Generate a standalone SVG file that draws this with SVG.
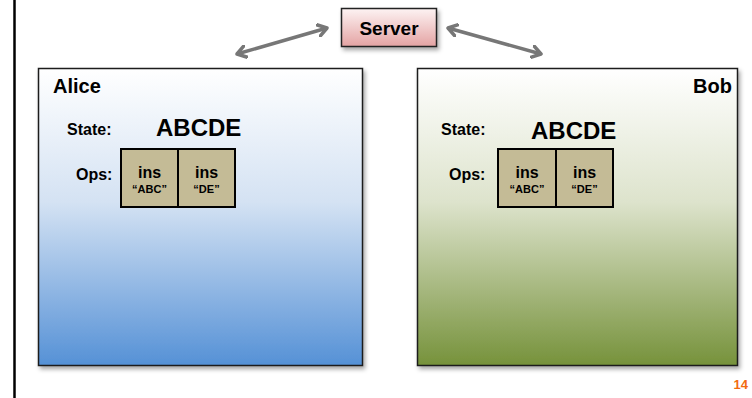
<svg xmlns="http://www.w3.org/2000/svg" width="752" height="398" viewBox="0 0 752 398">
  <style>
    text { font-family: "Liberation Sans", Arial, sans-serif; font-weight: bold; fill: #000; }
    .title { font-size: 20px; }
    .label { font-size: 16px; }
    .state { font-size: 24px; }
    .op { fill: #c4bb96; stroke: #000; stroke-width: 2; }
    .opname { font-size: 16px; text-anchor: middle; }
    .oparg { font-size: 11px; text-anchor: middle; }
    .client { stroke: #1a1a1a; stroke-width: 1.5; }
    .link { fill: none; stroke: #777; stroke-width: 3.5; }
  </style>
  <defs>
    <linearGradient id="gradAlice" x1="0" y1="0" x2="0" y2="1">
      <stop offset="0" stop-color="#ffffff"/>
      <stop offset="0.45" stop-color="#d4e2f3"/>
      <stop offset="1" stop-color="#5591d6"/>
    </linearGradient>
    <linearGradient id="gradBob" x1="0" y1="0" x2="0" y2="1">
      <stop offset="0" stop-color="#ffffff"/>
      <stop offset="0.45" stop-color="#dde3cc"/>
      <stop offset="1" stop-color="#76923b"/>
    </linearGradient>
    <linearGradient id="gradServer" x1="0" y1="0" x2="0" y2="1">
      <stop offset="0" stop-color="#fdf3f3"/>
      <stop offset="1" stop-color="#e4a3a3"/>
    </linearGradient>
    <filter id="shadow" x="-10%" y="-10%" width="125%" height="130%">
      <feDropShadow dx="2" dy="3" stdDeviation="2" flood-color="#000" flood-opacity="0.35"/>
    </filter>
    <marker id="chevron" viewBox="0 0 12 14" refX="10" refY="7" markerWidth="12" markerHeight="14" markerUnits="userSpaceOnUse" orient="auto-start-reverse">
      <path d="M1,1 L10,7 L1,13" fill="none" stroke="#777" stroke-width="3.5" stroke-linecap="round" stroke-linejoin="round"/>
    </marker>
  </defs>

  <!-- page margin rule -->
  <line x1="14.5" y1="0" x2="14.5" y2="398" stroke="#000" stroke-width="2.5"/>

  <!-- connectors -->
  <g id="connectors">
    <line class="link" x1="237" y1="54" x2="327" y2="28" marker-start="url(#chevron)" marker-end="url(#chevron)"/>
    <line class="link" x1="448" y1="28" x2="541" y2="54" marker-start="url(#chevron)" marker-end="url(#chevron)"/>
  </g>

  <!-- server -->
  <g id="server">
    <rect x="341.5" y="8.5" width="95" height="38" fill="url(#gradServer)" stroke="#222" stroke-width="1.5" filter="url(#shadow)"/>
    <text x="389" y="35" font-size="19" text-anchor="middle">Server</text>
  </g>

  <!-- client Alice -->
  <g id="alice">
    <rect class="client" x="38.5" y="68.5" width="324" height="297" fill="url(#gradAlice)" filter="url(#shadow)"/>
    <text class="title" x="53" y="93">Alice</text>
    <text class="label" x="67" y="135">State:</text>
    <text class="state" x="156" y="136">ABCDE</text>
    <text class="label" x="76" y="180">Ops:</text>
    <g id="alice-ops">
      <rect class="op" x="121" y="149" width="57" height="58"/>
      <rect class="op" x="178" y="149" width="57" height="58"/>
      <text class="opname" x="149.5" y="178">ins</text>
      <text class="oparg" x="149.5" y="193">“ABC”</text>
      <text class="opname" x="206.5" y="178">ins</text>
      <text class="oparg" x="206.5" y="193">“DE”</text>
    </g>
  </g>

  <!-- client Bob -->
  <g id="bob">
    <rect class="client" x="417.5" y="68.5" width="320" height="297" fill="url(#gradBob)" filter="url(#shadow)"/>
    <text class="title" x="732" y="93" text-anchor="end">Bob</text>
    <text class="label" x="441" y="135">State:</text>
    <text class="state" x="531" y="139">ABCDE</text>
    <text class="label" x="449" y="180">Ops:</text>
    <g id="bob-ops">
      <rect class="op" x="498" y="149" width="58" height="58"/>
      <rect class="op" x="556" y="149" width="57" height="58"/>
      <text class="opname" x="527" y="178">ins</text>
      <text class="oparg" x="527" y="193">“ABC”</text>
      <text class="opname" x="584.5" y="178">ins</text>
      <text class="oparg" x="584.5" y="193">“DE”</text>
    </g>
  </g>

  <!-- slide number -->
  <text x="748" y="389" font-size="13" text-anchor="end" style="fill:#f26a10">14</text>
</svg>
